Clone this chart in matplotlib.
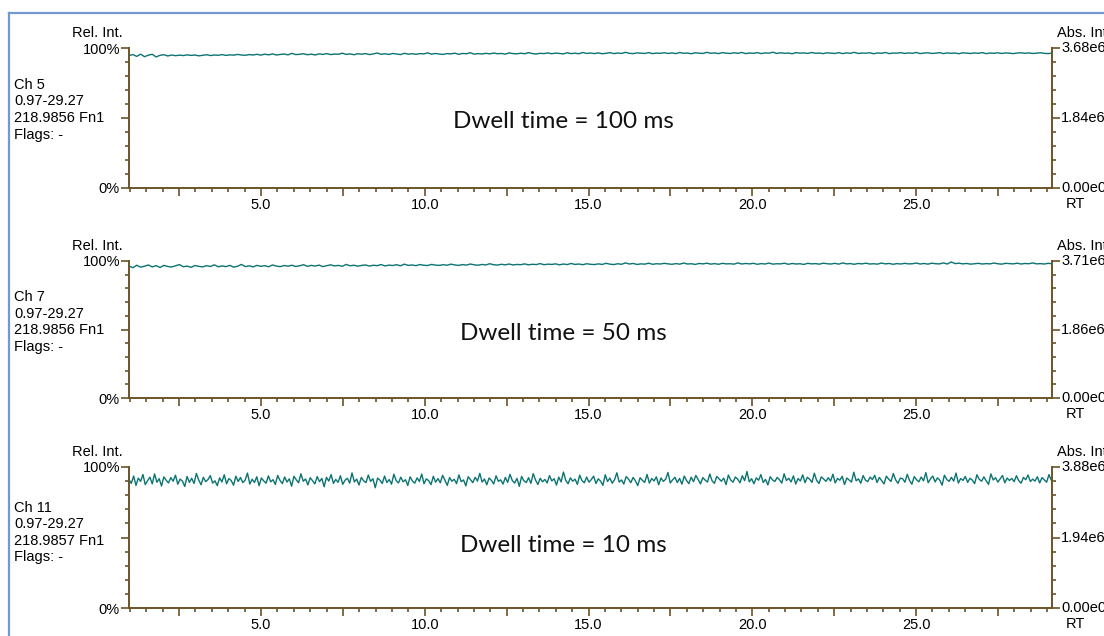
import numpy as np
import matplotlib
matplotlib.use("Agg")
import matplotlib.pyplot as plt
from matplotlib.ticker import FixedLocator, MultipleLocator, FuncFormatter

W, H = 1104, 636

# ---------------- data ----------------
channels = ["Ch 5", "Ch 7", "Ch 11"]
rt_ranges = ["0.97-29.27", "0.97-29.27", "0.97-29.27"]
masses = ["218.9856 Fn1", "218.9856 Fn1", "218.9857 Fn1"]
abs_max = ["3.68e6", "3.71e6", "3.88e6"]
abs_mid = ["1.84e6", "1.86e6", "1.94e6"]
dwell_labels = ["Dwell time = 100 ms", "Dwell time = 50 ms", "Dwell time = 10 ms"]
rt_start, rt_end = 0.97, 29.27

trace_100ms = [
    94.6, 95.3, 94.0, 95.6, 93.8, 94.9, 95.5, 93.6, 94.8, 95.2, 94.3, 95.0, 94.5, 94.9, 94.6, 95.1, 94.7, 95.0, 94.4, 94.8,
    95.2, 94.6, 95.0, 94.8, 95.3, 94.7, 95.1, 94.9, 95.4, 95.0, 94.8, 95.3, 95.0, 95.5, 94.9, 95.6, 95.1, 95.8, 95.0, 95.4,
    95.7, 95.1, 96.2, 95.3, 95.5, 95.9, 95.2, 95.6, 95.0, 95.8, 95.4, 96.0, 95.3, 95.7, 95.5, 96.3, 95.4, 95.8, 95.2, 95.9,
    95.6, 96.0, 95.3, 95.8, 96.4, 95.5, 95.9, 95.4, 96.1, 95.7, 95.3, 96.2, 95.6, 95.9, 95.5, 96.0, 95.8, 96.5, 95.6, 96.1,
    95.7, 95.4, 96.0, 95.8, 96.3, 95.5, 96.1, 95.9, 96.6, 95.6, 96.0, 95.7, 96.2, 95.8, 96.4, 95.9, 96.1, 95.6, 96.5, 96.0,
    95.8, 96.3, 95.9, 96.7, 96.0, 95.7, 96.2, 96.0, 96.5, 95.9, 96.4, 96.1, 95.8, 96.6, 96.0, 96.3, 95.9, 96.8, 96.1, 96.4,
    96.0, 96.5, 95.9, 96.2, 96.7, 96.0, 96.4, 96.1, 96.9, 96.2, 96.0, 96.5, 96.3, 96.1, 96.7, 96.0, 96.4, 96.2, 96.6, 96.1,
    96.5, 96.0, 96.8, 96.2, 96.4, 95.9, 96.6, 96.3, 96.1, 96.9, 96.2, 96.5, 96.0, 96.7, 96.3, 96.1, 96.6, 96.2, 96.8, 96.0,
    96.4, 96.2, 96.7, 96.0, 96.5, 96.3, 97.0, 96.1, 96.6, 96.2, 96.4, 95.9, 96.7, 96.3, 96.5, 96.1, 96.8, 96.2, 96.4, 96.0,
    96.6, 96.3, 96.1, 96.7, 96.0, 96.5, 96.2, 96.9, 96.1, 96.4, 96.3, 96.6, 95.9, 96.5, 96.2, 96.8, 96.0, 96.4, 96.3, 96.7,
    96.1, 96.5, 96.2, 96.8, 96.0, 96.4, 96.6, 96.1, 96.3, 96.7, 96.0, 96.5, 96.2, 96.4, 95.9, 96.6, 96.3, 96.1, 96.5, 96.2,
    96.7, 96.0, 96.4, 96.2, 96.6, 96.1, 96.5, 96.3, 96.0, 96.4, 96.6, 96.2, 96.5, 96.1, 96.3, 96.6, 96.2, 96.0, 96.4, 96.3,
]

trace_50ms = [
    96.3, 95.1, 96.9, 95.5, 96.2, 97.1, 95.7, 96.6, 95.3, 96.8, 96.0, 95.6, 96.5, 97.4, 95.8, 96.3, 95.4, 96.7, 96.1, 95.7,
    96.6, 96.0, 97.2, 95.8, 96.4, 95.9, 96.8, 95.5, 96.2, 97.5, 95.9, 96.5, 95.7, 96.8, 96.1, 96.6, 95.8, 97.1, 96.3, 95.9,
    96.7, 96.2, 96.9, 96.0, 96.5, 97.3, 96.1, 96.8, 96.3, 97.0, 95.9, 96.6, 97.2, 96.4, 96.8, 96.1, 97.5, 96.5, 96.9, 96.2,
    96.8, 97.1, 96.3, 96.9, 96.6, 97.4, 96.4, 97.0, 96.7, 97.3, 96.5, 97.7, 96.8, 97.1, 96.6, 97.4, 96.9, 96.7, 97.5, 97.0,
    96.8, 97.3, 96.9, 97.7, 97.1, 96.8, 97.4, 97.0, 97.8, 97.2, 96.9, 97.5, 97.1, 98.0, 97.3, 97.0, 97.6, 97.2, 97.8, 97.1,
    97.5, 97.3, 97.9, 97.2, 97.6, 97.4, 98.1, 97.3, 97.7, 97.5, 97.9, 97.2, 97.8, 97.4, 98.2, 97.5, 97.8, 97.3, 98.0, 97.6,
    97.4, 97.9, 97.5, 98.3, 97.7, 97.4, 98.0, 97.6, 98.6, 97.8, 98.2, 97.5, 97.9, 97.7, 98.4, 97.6, 98.0, 97.8, 98.3, 97.9,
    97.6, 98.1, 97.7, 98.5, 97.8, 98.0, 97.5, 98.2, 97.9, 98.4, 97.7, 98.1, 97.6, 98.3, 97.9, 98.0, 97.7, 98.6, 97.8, 98.2,
    97.9, 98.3, 97.6, 98.1, 97.8, 98.5, 97.7, 98.0, 97.9, 98.4, 97.6, 98.2, 97.8, 98.0, 97.5, 98.3, 97.9, 98.1, 97.7, 98.4,
    98.0, 97.8, 98.3, 97.7, 98.6, 97.9, 98.1, 97.6, 98.2, 97.9, 98.4, 97.8, 98.0, 97.7, 98.5, 97.9, 98.2, 97.6, 98.1, 97.8,
    98.3, 97.9, 98.0, 98.5, 97.8, 98.2, 97.7, 98.4, 98.0, 97.9, 98.6, 97.8, 99.3, 98.1, 98.4, 97.9, 98.2, 97.7, 98.0, 98.3,
    97.8, 98.1, 97.9, 98.5, 98.0, 97.7, 98.3, 98.1, 97.9, 98.4, 97.8, 98.2, 98.0, 98.6, 97.9, 98.1, 97.8, 98.3, 98.0, 98.2,
]

trace_10ms = [
    91.2, 88.4, 93.6, 86.9, 92.1, 89.8, 94.7, 87.5, 90.3, 92.8, 88.0, 95.1, 89.2, 91.7, 86.5, 93.0, 90.6, 88.7, 92.5, 89.9,
    94.2, 87.8, 91.4, 90.0, 86.2, 93.3, 89.1, 92.0, 88.3, 95.4, 90.8, 87.4, 92.7, 89.6, 91.1, 93.9, 88.6, 90.2, 86.8, 92.3,
    89.4, 94.5, 88.1, 91.8, 90.4, 87.1, 93.5, 89.7, 92.6, 88.9, 90.7, 95.7, 87.9, 91.3, 89.0, 93.1, 86.7, 92.2, 90.1, 88.5,
    93.7, 89.5, 91.0, 87.6, 94.0, 90.5, 88.2, 92.9, 89.3, 91.6, 86.4, 93.4, 90.9, 88.8, 95.2, 89.9, 91.5, 87.3, 92.4, 90.3,
    88.0, 93.2, 89.6, 91.9, 86.0, 92.7, 90.0, 94.6, 88.4, 91.2, 89.1, 93.8, 87.7, 90.6, 92.0, 88.6, 95.8, 89.4, 91.4, 87.2,
    92.6, 90.2, 88.9, 94.3, 89.8, 91.7, 85.3, 92.1, 90.7, 88.3, 93.6, 89.0, 91.1, 87.8, 94.9, 90.4, 88.7, 92.8, 89.5, 91.0,
    86.9, 93.0, 90.1, 88.5, 92.3, 89.7, 95.0, 88.1, 91.6, 90.3, 87.5, 93.4, 89.2, 91.8, 88.8, 94.1, 90.6, 87.0, 92.5, 89.9,
    91.3, 88.2, 94.4, 89.6, 90.8, 86.6, 93.1, 91.0, 88.9, 92.7, 90.0, 95.5, 89.3, 91.5, 87.4, 92.2, 90.5, 88.0, 93.7, 89.8,
    90.9, 87.9, 92.6, 89.1, 94.8, 90.4, 88.6, 91.9, 86.3, 93.3, 90.2, 89.0, 92.4, 88.4, 95.3, 90.7, 87.6, 92.0, 89.5, 91.2,
    88.7, 93.9, 90.1, 91.7, 87.2, 92.8, 89.4, 96.4, 90.6, 88.1, 92.3, 89.9, 91.4, 87.7, 94.2, 90.3, 88.8, 92.9, 89.2, 91.1,
    93.5, 88.3, 91.6, 90.0, 87.0, 94.5, 89.7, 92.1, 88.5, 91.0, 95.9, 89.3, 90.8, 87.9, 93.2, 91.5, 88.9, 92.6, 90.2, 86.8,
    92.4, 90.5, 89.1, 94.7, 88.6, 91.8, 90.1, 93.0, 87.4, 92.2, 89.8, 91.3, 96.1, 88.7, 90.9, 92.7, 89.0, 91.9, 87.8, 93.6,
    90.4, 88.2, 92.8, 89.6, 94.0, 91.1, 88.0, 92.5, 90.7, 89.3, 95.0, 90.2, 88.4, 93.3, 91.6, 89.9, 92.1, 87.5, 94.3, 90.8,
    89.2, 92.9, 91.4, 88.8, 93.8, 90.3, 96.8, 89.5, 91.7, 88.1, 92.3, 90.6, 94.6, 89.0, 91.2, 87.3, 93.1, 90.9, 89.7, 92.6,
    91.0, 88.6, 95.2, 90.4, 92.0, 89.4, 93.7, 87.9, 91.8, 90.1, 94.4, 88.9, 92.7, 91.3, 89.1, 95.6, 90.5, 88.3, 93.0, 91.5,
    89.8, 92.4, 90.0, 94.9, 88.7, 91.9, 90.6, 93.4, 87.6, 92.2, 90.8, 89.3, 96.3, 90.2, 91.6, 88.5, 93.9, 90.7, 89.6, 92.8,
    91.1, 94.1, 89.0, 92.6, 90.3, 88.0, 93.5, 91.4, 89.7, 95.4, 90.9, 88.4, 92.1, 91.7, 89.2, 94.8, 90.4, 87.8, 93.2, 91.0,
    89.5, 92.9, 90.2, 96.0, 88.9, 91.5, 93.6, 89.4, 92.3, 90.6, 87.1, 94.2, 91.2, 89.8, 92.7, 90.0, 95.7, 88.6, 91.8, 90.5,
    93.3, 89.1, 92.0, 90.7, 88.2, 94.5, 91.3, 89.9, 93.0, 90.1, 87.7, 95.1, 90.8, 92.4, 89.3, 91.6, 94.0, 88.8, 92.2, 90.4,
    91.9, 89.6, 93.8, 90.3, 88.5, 92.6, 91.0, 94.3, 89.7, 91.4, 90.0, 93.1, 88.7, 92.5, 90.9, 89.2, 94.6, 90.6, 91.7, 90.2,
]

traces = [trace_100ms, trace_50ms, trace_10ms]

# ---------------- layout ----------------
TRACE = "#0b7473"
AX = "#6b5428"
FRAME = "#7098d2"
FONT = "Liberation Sans"
FS = 10.5

fig = plt.figure(figsize=(W / 100, H / 100), dpi=100)

def fx(x):
    return x / W

def fy(y):
    return 1 - y / H

# panels in pixel coordinates: (top, bottom)
panels = [(48, 188), (261, 398), (467, 608)]
left_px, right_px = 129, 1052
text_rows = [(85, 101, 118, 135), (297, 314, 330, 347), (508, 524, 541, 557)]
dwell_y = [121, 334, 545]

for i, (top, bot) in enumerate(panels):
    ax = fig.add_axes([fx(left_px), fy(bot), fx(right_px - left_px), (bot - top) / H])
    y = np.array(traces[i])
    x = np.linspace(rt_start, rt_end, len(y))
    ax.plot(x, y, color=TRACE, lw=1.0)
    ax.set_xlim(0.97, 29.15)
    ax.set_ylim(0, 100)
    ax.patch.set_alpha(0)

    for s in ["left", "bottom", "right"]:
        ax.spines[s].set_color(AX)
        ax.spines[s].set_linewidth(1.4)
    ax.spines["top"].set_visible(False)

    # x ticks
    ax.xaxis.set_major_locator(FixedLocator([2.5 * k for k in range(1, 12)]))
    ax.xaxis.set_minor_locator(MultipleLocator(0.5))
    ax.xaxis.set_major_formatter(FuncFormatter(
        lambda v, p: f"{v:.1f}" if abs(v / 5 - round(v / 5)) < 1e-6 else ""))
    ax.tick_params(axis="x", which="major", length=6, width=1.2, color=AX,
                   labelsize=FS, pad=1.5, direction="out")
    ax.tick_params(axis="x", which="minor", length=3, width=1.2, color=AX, direction="out")

    # y ticks (left and right)
    ax.yaxis.set_major_locator(FixedLocator([0, 50, 100]))
    ax.yaxis.set_minor_locator(MultipleLocator(10))
    ax.yaxis.set_major_formatter(FuncFormatter(lambda v, p: {0: "0%", 100: "100%"}.get(int(v), "")))
    ax.tick_params(axis="y", which="major", length=5.5, width=1.2, color=AX, labelsize=FS,
                   pad=1, right=True, direction="out")
    ax.tick_params(axis="y", which="minor", length=3, width=1.2, color=AX, right=True,
                   direction="out")
    for lab in ax.get_xticklabels() + ax.get_yticklabels():
        lab.set_fontfamily(FONT)

    # text annotations
    fig.text(fx(123), fy(top - 15), "Rel. Int.", ha="right", va="center",
             fontsize=FS, family=FONT)
    for txt, yy in zip([channels[i], rt_ranges[i], masses[i], "Flags: -"], text_rows[i]):
        fig.text(fx(14), fy(yy), txt, ha="left", va="center", fontsize=FS, family=FONT)
    fig.text(fx(1057), fy(top - 15), "Abs. Int.", ha="left", va="center",
             fontsize=FS, family=FONT)
    fig.text(fx(1061), fy(top), abs_max[i], ha="left", va="center", fontsize=FS, family=FONT)
    fig.text(fx(1061), fy((top + bot) / 2), abs_mid[i], ha="left", va="center",
             fontsize=FS, family=FONT)
    fig.text(fx(1061), fy(bot), "0.00e0", ha="left", va="center", fontsize=FS, family=FONT)
    fig.text(fx(1075), fy(bot + 16), "RT", ha="center", va="center", fontsize=FS, family=FONT)
    fig.text(fx(563), fy(dwell_y[i]), dwell_labels[i], ha="center", va="center",
             fontsize=17.5, family="Lato", color="#111111")

# blue frame of the screenshot
fig.add_artist(plt.Line2D([fx(9), fx(9)], [fy(13), 0], color=FRAME, lw=1.6))
fig.add_artist(plt.Line2D([fx(9), 1], [fy(13), fy(13)], color=FRAME, lw=1.6))

fig.savefig("out.png", dpi=100)
